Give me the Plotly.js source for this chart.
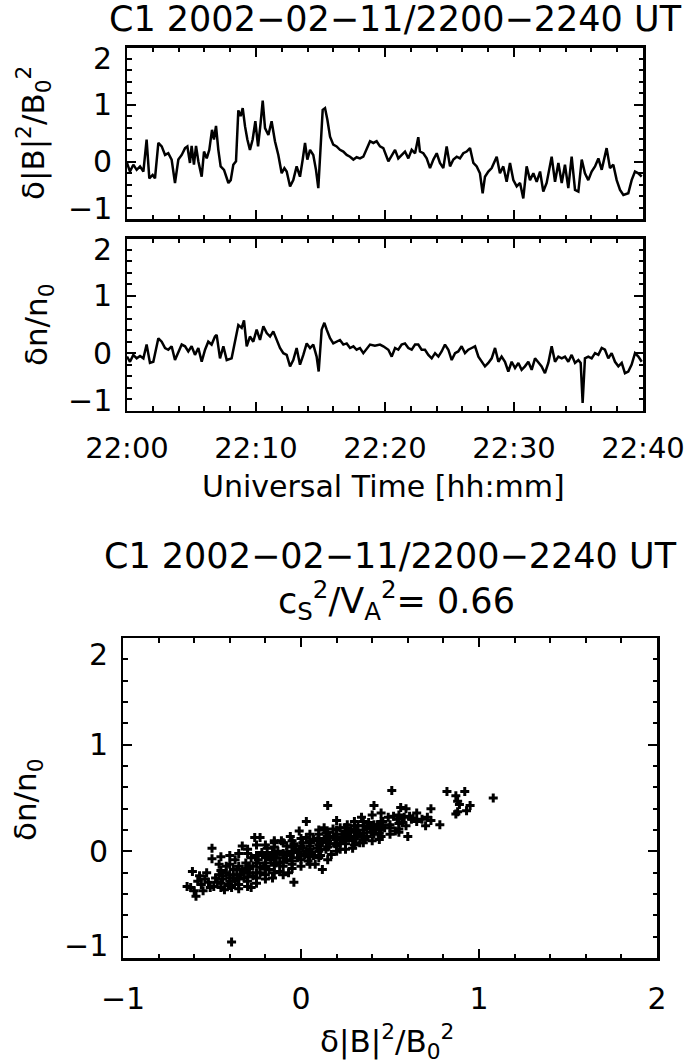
<!DOCTYPE html>
<html>
<head>
<meta charset="utf-8">
<script src="https://cdn.plot.ly/plotly-3.0.1.min.js"></script>
<style>html,body{margin:0;padding:0;background:#fff;}#chart{width:685px;height:1064px;}</style>
</head>
<body>
<div id="chart"></div>
<script>
// minutes after 22:00 UT and δ|B|^2/B0^2
const tB = [0,0.23,0.49,0.75,1.01,1.27,1.52,1.73,1.99,2.17,2.43,2.69,2.95,3.20,3.46,3.72,3.98,4.24,4.50,4.68,4.88,5.01,5.19,5.35,5.53,5.79,5.97,6.18,6.38,6.59,6.74,6.90,7.08,7.26,7.52,7.86,8.04,8.24,8.45,8.63,8.81,8.97,9.15,9.33,9.53,9.74,9.95,10.16,10.36,10.52,10.70,10.96,11.21,11.47,11.73,11.99,12.20,12.38,12.64,12.89,13.15,13.41,13.62,13.80,13.98,14.19,14.44,14.65,14.83,15.01,15.17,15.35,15.53,15.74,15.99,16.25,16.51,16.77,17.03,17.29,17.55,17.80,18.06,18.32,18.84,19.10,19.35,19.61,19.87,20.26,20.52,20.78,21.03,21.29,21.55,21.81,22.07,22.33,22.58,22.71,22.97,23.23,23.49,23.75,24.01,24.26,24.52,24.78,25.04,25.30,25.56,25.81,26.07,26.33,26.59,26.85,27.11,27.36,27.57,27.75,28.01,28.27,28.66,28.91,29.17,29.43,29.69,29.95,30.21,30.47,30.72,30.98,31.24,31.50,31.76,32.02,32.27,32.53,32.92,33.18,33.44,33.70,33.95,34.21,34.47,34.73,34.99,35.25,35.50,35.76,36.02,36.28,36.54,36.80,37.18,37.44,37.70,37.96,38.22,38.48,38.86,39.12,39.38,39.64,39.90];
const dB = [-0.02,-0.17,-0.05,-0.14,-0.08,-0.17,0.39,-0.29,-0.23,-0.29,0.33,0.27,0.12,0.15,0.04,-0.37,0.04,0.12,0.24,0.27,-0.02,0.28,-0.05,0.28,0.01,-0.26,0.18,0.06,0.21,0.56,0.39,0.63,0.21,-0.08,-0.14,-0.37,-0.32,-0.05,0.01,0.90,0.80,0.94,0.62,0.39,0.21,0.39,0.71,0.27,0.68,1.07,0.59,0.47,0.71,0.36,0.12,-0.20,-0.11,-0.17,-0.43,-0.32,-0.08,-0.26,0.04,0.33,0.04,0.21,0.12,-0.14,-0.46,0.39,0.91,0.94,0.74,0.44,0.30,0.27,0.21,0.18,0.12,0.09,0.04,0.08,0.06,0.09,0.36,0.33,0.36,0.27,0.24,0.01,0.12,0.21,0.06,0.12,0.18,0.06,0.21,0.15,0.43,0.18,0.15,0.06,-0.11,0.04,0.15,-0.02,-0.11,0.27,-0.08,0.04,0.09,0.06,0.15,0.18,0.24,-0.02,-0.08,-0.20,-0.55,-0.26,-0.17,-0.11,0.09,-0.20,-0.08,-0.35,-0.02,-0.32,-0.43,-0.37,-0.64,-0.08,-0.32,-0.20,-0.35,-0.17,-0.52,-0.37,0.09,-0.35,-0.02,-0.37,-0.05,-0.46,0.09,-0.49,-0.52,0.04,-0.20,-0.32,-0.17,-0.08,0.06,-0.14,0.24,-0.11,-0.05,-0.32,-0.49,-0.58,-0.55,-0.32,-0.17,-0.20,-0.26];
// minutes after 22:00 UT and δn/n0
const tN = [0,0.23,0.49,0.75,1.01,1.27,1.52,1.78,2.04,2.30,2.43,2.69,2.95,3.20,3.46,3.72,3.98,4.24,4.50,4.75,5.01,5.27,5.53,5.79,6.05,6.30,6.56,6.82,6.95,7.21,7.47,7.73,8.11,8.37,8.63,8.89,9.07,9.28,9.53,9.79,10.05,10.31,10.57,10.83,11.09,11.34,11.60,11.86,12.12,12.38,12.64,12.89,13.15,13.41,13.67,13.93,14.19,14.44,14.70,14.86,15.09,15.30,15.48,15.74,15.99,16.25,16.51,16.77,17.03,17.29,17.55,17.80,18.06,18.32,18.84,19.22,19.61,19.87,20.26,20.52,20.78,21.03,21.29,21.55,21.81,22.07,22.33,22.58,22.84,23.10,23.36,23.62,23.88,24.14,24.39,24.65,24.91,25.17,25.43,25.68,25.94,26.20,26.46,26.72,26.98,27.24,27.49,27.75,28.01,28.27,28.53,28.79,29.04,29.30,29.56,29.82,30.08,30.34,30.59,30.85,31.11,31.37,31.63,31.89,32.14,32.40,32.66,32.92,33.18,33.44,33.70,33.95,34.21,34.47,34.73,34.99,35.17,35.32,35.50,35.76,36.02,36.28,36.54,36.80,37.05,37.31,37.57,37.83,38.09,38.35,38.60,38.86,39.12,39.38,39.64,39.90];
const dN = [-0.06,-0.15,-0.03,-0.09,-0.05,-0.09,0.15,-0.17,-0.15,0.09,0.26,0.20,0.09,0.06,0.12,-0.12,0.00,0.15,0.12,0.03,0.12,-0.03,0.09,-0.15,0.06,0.20,0.15,0.29,0.32,-0.09,0.12,-0.12,-0.09,0.17,0.49,0.44,0.57,0.12,0.29,0.20,0.41,0.23,0.47,0.35,0.29,0.38,0.23,0.09,0.00,-0.03,-0.23,-0.12,0.09,-0.20,-0.03,0.17,0.09,0.15,-0.06,-0.32,0.41,0.53,0.41,0.26,0.17,0.20,0.23,0.15,0.17,0.09,0.12,0.06,0.09,0.00,0.15,0.13,0.15,0.12,0.06,-0.06,0.09,0.06,0.15,0.17,0.09,0.06,0.15,0.15,0.06,0.06,-0.03,-0.09,0.00,-0.06,0.03,0.15,0.06,-0.12,0.00,0.03,0.12,0.00,0.06,0.09,0.12,-0.06,-0.15,-0.23,-0.17,-0.09,0.09,-0.15,-0.06,-0.15,-0.32,-0.15,-0.26,-0.17,-0.29,-0.23,-0.15,-0.29,-0.09,-0.17,-0.23,-0.35,-0.17,0.12,-0.15,-0.06,-0.09,-0.06,-0.15,-0.03,-0.17,-0.12,-0.17,-0.87,-0.09,-0.06,-0.09,0.00,-0.03,0.09,0.06,-0.09,0.00,-0.15,-0.23,-0.17,-0.35,-0.32,-0.20,0.00,-0.06,-0.15];
// scatter: δ|B|^2/B0^2 (x) vs δn/n0 (y)
const scatX = [-0.64,-0.62,-0.61,-0.60,-0.59,-0.58,-0.57,-0.56,-0.55,-0.54,-0.53,-0.52,-0.51,-0.50,-0.50,-0.49,-0.48,-0.47,-0.46,-0.46,-0.45,-0.44,-0.43,-0.42,-0.41,-0.40,-0.39,-0.38,-0.37,-0.37,-0.36,-0.35,-0.33,-0.33,-0.32,-0.31,-0.30,-0.29,-0.28,-0.28,
-0.27,-0.26,-0.25,-0.24,-0.23,-0.23,-0.22,-0.20,-0.20,-0.19,-0.18,-0.17,-0.16,-0.15,-0.14,-0.13,-0.12,-0.11,-0.10,-0.10,-0.08,-0.08,-0.07,-0.06,-0.05,-0.04,-0.03,-0.02,-0.01,0.00,0.01,0.02,0.03,0.03,0.04,0.05,0.06,0.07,0.08,0.09,
0.10,0.11,0.12,0.12,0.13,0.14,0.15,0.16,0.17,0.18,0.19,0.20,0.20,0.22,0.22,0.23,0.25,0.26,0.27,0.28,0.29,0.30,0.31,0.32,0.33,0.34,0.35,0.36,0.37,0.38,0.40,0.41,0.41,0.42,0.44,0.44,0.45,0.46,0.47,
0.49,0.50,0.51,0.52,0.53,0.54,0.55,0.56,0.57,0.58,0.59,0.59,0.60,0.61,0.62,0.63,0.70,0.71,0.73,0.73,0.78,0.82,0.87,0.87,0.88,0.88,0.89,0.92,0.93,0.95,1.08,-0.39,
-0.44,-0.40,-0.36,-0.32,-0.29,-0.25,-0.21,-0.17,-0.14,-0.10,-0.06,-0.02,0.01,0.05,0.09,0.13,0.16,0.20,0.24,0.28,0.31,0.35,0.39,0.43,
-0.42,-0.38,-0.34,-0.31,-0.27,-0.23,-0.19,-0.16,-0.12,-0.08,-0.04,-0.01,0.03,0.07,0.11,0.14,0.18,0.22,0.26,0.29,0.33,0.37,0.41,0.44,
-0.45,-0.45,-0.45,-0.40,-0.40,-0.40,-0.40,-0.35,-0.35,-0.35,-0.35,-0.30,-0.30,-0.30,-0.30,-0.30,-0.25,-0.25,-0.25,-0.25,-0.20,-0.20,-0.20,-0.20,
-0.15,-0.15,-0.15,-0.15,-0.15,-0.10,-0.10,-0.10,-0.10,-0.05,-0.05,-0.05,-0.05,-0.05,0.00,0.00,0.00,0.00,0.05,0.05,0.05,0.05,0.05,
0.10,0.10,0.10,0.10,0.10,0.15,0.15,0.15,0.15,0.20,0.20,0.20,0.20,0.25,0.25,0.25,0.25,0.30,0.30,0.30,0.30,0.35,0.35,0.35,0.35,
0.40,0.40,0.40,0.45,0.45,0.45,0.50,0.50,0.55,0.55,0.55,0.65,0.65,0.68];
const scatY = [-0.33,-0.34,-0.19,-0.37,-0.42,-0.28,-0.23,-0.31,-0.37,-0.26,-0.20,-0.29,-0.34,0.03,-0.07,-0.33,-0.25,-0.29,-0.22,-0.12,-0.34,-0.26,-0.36,-0.20,-0.31,-0.25,-0.34,-0.17,-0.28,-0.08,-0.22,-0.31,0.05,-0.17,-0.25,-0.11,-0.33,-0.20,-0.34,-0.06,
-0.14,0.13,-0.25,-0.08,0.13,-0.20,-0.01,-0.26,-0.11,0.03,-0.17,-0.04,-0.25,0.08,-0.11,0.00,-0.19,0.10,-0.06,-0.14,0.05,-0.01,-0.20,0.14,-0.09,-0.29,0.02,-0.06,0.19,-0.14,0.08,-0.03,0.13,0.28,-0.09,0.05,-0.01,0.11,-0.12,0.03,
0.16,-0.04,0.08,-0.17,0.22,0.02,0.43,0.13,-0.03,0.21,0.07,0.29,0.11,0.02,0.22,0.16,0.07,0.25,0.13,0.21,0.03,0.28,0.14,0.24,0.08,0.32,0.17,0.11,0.22,0.27,0.34,0.43,0.16,0.21,0.11,0.24,0.36,0.28,0.22,
0.32,0.25,0.57,0.33,0.19,0.30,0.21,0.41,0.27,0.32,0.24,0.40,0.14,0.33,0.30,0.31,0.24,0.32,0.40,0.29,0.25,0.56,0.35,0.52,0.47,0.37,0.44,0.56,0.38,0.43,0.50,-0.85,
-0.23,-0.22,-0.17,-0.20,-0.14,-0.11,-0.14,-0.08,-0.06,-0.03,-0.04,-0.01,0.03,0.08,0.10,0.11,0.07,0.16,0.11,0.14,0.19,0.24,0.21,0.25,
-0.14,-0.25,-0.22,-0.17,-0.23,-0.15,-0.04,-0.01,-0.11,-0.08,0.07,0.02,0.00,-0.04,0.02,0.17,0.14,0.08,0.19,0.10,0.16,0.14,0.25,0.17,
-0.30,-0.18,-0.05,-0.32,-0.28,-0.12,-0.04,-0.35,-0.26,-0.14,-0.02,-0.28,-0.24,-0.16,-0.02,0.02,-0.30,-0.20,-0.04,0.06,-0.22,-0.16,-0.06,0.06,
-0.20,-0.13,-0.04,0.04,0.10,-0.22,-0.10,-0.02,0.08,-0.16,-0.12,0.00,0.04,0.10,-0.08,-0.04,0.05,0.12,-0.12,-0.05,0.02,0.10,0.16,
-0.06,0.00,0.06,0.12,0.20,-0.08,0.04,0.10,0.18,0.00,0.05,0.13,0.20,0.02,0.10,0.17,0.22,0.06,0.12,0.18,0.24,0.08,0.14,0.20,0.28,
0.10,0.18,0.24,0.14,0.20,0.28,0.16,0.22,0.18,0.26,0.34,0.28,0.36,0.30];

const timeTickVals = [0,10,20,30,40];
const timeTickText = ["22:00","22:10","22:20","22:30","22:40"];
const valTickVals = [-1,0,1,2];
const valTickText = ["\u22121","0","1","2"];

const titleText = "C1 2002\u221202\u221211/2200\u22122240 UT";
const ratioText = "c<sub>S</sub><sup>2</sup>/V<sub>A</sub><sup>2</sup>= 0.66";
const bLabel = "\u03b4|B|<sup>2</sup>/B<sub>0</sub><sup>2</sup>";
const nLabel = "\u03b4n/n<sub>0</sub>";
const xTimeLabel = "Universal Time [hh:mm]";

const FONT = "DejaVu Sans, Liberation Sans, sans-serif";
const W = 685, H = 1064;
const px = v => v / W;
const py = v => 1 - v / H;

const TICKFONT = {family: FONT, size: 30, color: "#000"};
const TIMEFONT = {family: FONT, size: 29, color: "#000"};
function minorTicks(dtick) {
  return {ticks: "inside", ticklen: 4.5, tickwidth: 2, tickcolor: "#000", dtick: dtick, tick0: 0, showgrid: false};
}
function axisBase(extra) {
  return Object.assign({
    showline: true, linecolor: "#000", linewidth: 2.5, mirror: "allticks",
    ticks: "inside", ticklen: 9, tickwidth: 2, tickcolor: "#000",
    showgrid: false, zeroline: false, fixedrange: true,
    tickfont: TICKFONT, ticklabeloverflow: "allow"
  }, extra);
}

const traces = [
  {x: tB, y: dB, type: "scatter", mode: "lines", line: {color: "#000", width: 2.5}, xaxis: "x", yaxis: "y", hoverinfo: "skip"},
  {x: tN, y: dN, type: "scatter", mode: "lines", line: {color: "#000", width: 2.5}, xaxis: "x2", yaxis: "y2", hoverinfo: "skip"},
  {x: scatX, y: scatY, type: "scatter", mode: "markers", marker: {symbol: "cross", size: 7.5, color: "#000"}, xaxis: "x3", yaxis: "y3", hoverinfo: "skip"}
];

// y tick labels (IDL draws the end labels pulled inside the frame)
const yAxes = [
  {ref: "y", left: 127, shiftTop: -11, shiftBot: 10},
  {ref: "y2", left: 127, shiftTop: -11, shiftBot: 10},
  {ref: "y3", left: 123, shiftTop: -16, shiftBot: 13}
];
const yTickAnns = [];
yAxes.forEach(a => {
  valTickVals.forEach((v, i) => {
    yTickAnns.push({
      text: valTickText[i], xref: "paper", x: px(a.left - 13), xanchor: "right",
      yref: a.ref, y: v, yanchor: "middle",
      yshift: v === valTickVals[valTickVals.length - 1] ? a.shiftTop : (v === valTickVals[0] ? a.shiftBot : 0),
      showarrow: false, font: TICKFONT
    });
  });
});

const layout = {
  width: W, height: H,
  margin: {l: 0, r: 0, t: 0, b: 0},
  paper_bgcolor: "#fff", plot_bgcolor: "#fff",
  showlegend: false,
  font: {family: FONT, color: "#000"},
  xaxis: axisBase({domain: [px(127), px(643)], range: [0, 40], tickvals: timeTickVals, ticktext: timeTickText, showticklabels: false, anchor: "y", minor: minorTicks(2)}),
  yaxis: axisBase({domain: [py(219), py(47.5)], range: [-1, 2], tickvals: valTickVals, showticklabels: false, anchor: "x", minor: minorTicks(0.2)}),
  xaxis2: axisBase({domain: [px(127), px(643)], range: [0, 40], tickvals: timeTickVals, ticktext: timeTickText, tickfont: TIMEFONT, anchor: "y2", ticklabelstandoff: 10, minor: minorTicks(2)}),
  yaxis2: axisBase({domain: [py(410.5), py(238.5)], range: [-1, 2], tickvals: valTickVals, showticklabels: false, anchor: "x2", minor: minorTicks(0.2)}),
  xaxis3: axisBase({domain: [px(123), px(657)], range: [-1, 2], tickvals: valTickVals, ticktext: valTickText, anchor: "y3", ticklabelstandoff: 12, minor: minorTicks(0.2)}),
  yaxis3: axisBase({domain: [py(958), py(638)], range: [-1, 2], tickvals: valTickVals, showticklabels: false, anchor: "x3", minor: minorTicks(0.2)}),
  annotations: yTickAnns.concat([
    {text: titleText, x: px(395), y: py(19), xref: "paper", yref: "paper", showarrow: false, xanchor: "center", yanchor: "middle", font: {size: 35}},
    {text: bLabel, x: px(33), y: py(133), xref: "paper", yref: "paper", showarrow: false, textangle: -90, xanchor: "center", yanchor: "middle", font: {size: 31}},
    {text: nLabel, x: px(38), y: py(325), xref: "paper", yref: "paper", showarrow: false, textangle: -90, xanchor: "center", yanchor: "middle", font: {size: 31}},
    {text: xTimeLabel, x: px(383), y: py(487), xref: "paper", yref: "paper", showarrow: false, xanchor: "center", yanchor: "middle", font: {size: 30}},
    {text: titleText, x: px(390), y: py(556), xref: "paper", yref: "paper", showarrow: false, xanchor: "center", yanchor: "middle", font: {size: 35}},
    {text: ratioText, x: px(396), y: py(600), xref: "paper", yref: "paper", showarrow: false, xanchor: "center", yanchor: "middle", font: {size: 35}},
    {text: nLabel, x: px(27), y: py(800), xref: "paper", yref: "paper", showarrow: false, textangle: -90, xanchor: "center", yanchor: "middle", font: {size: 31}},
    {text: bLabel, x: px(387), y: py(1041), xref: "paper", yref: "paper", showarrow: false, xanchor: "center", yanchor: "middle", font: {size: 31}}
  ])
};

Plotly.newPlot("chart", traces, layout, {staticPlot: true, displayModeBar: false});
</script>
</body>
</html>
